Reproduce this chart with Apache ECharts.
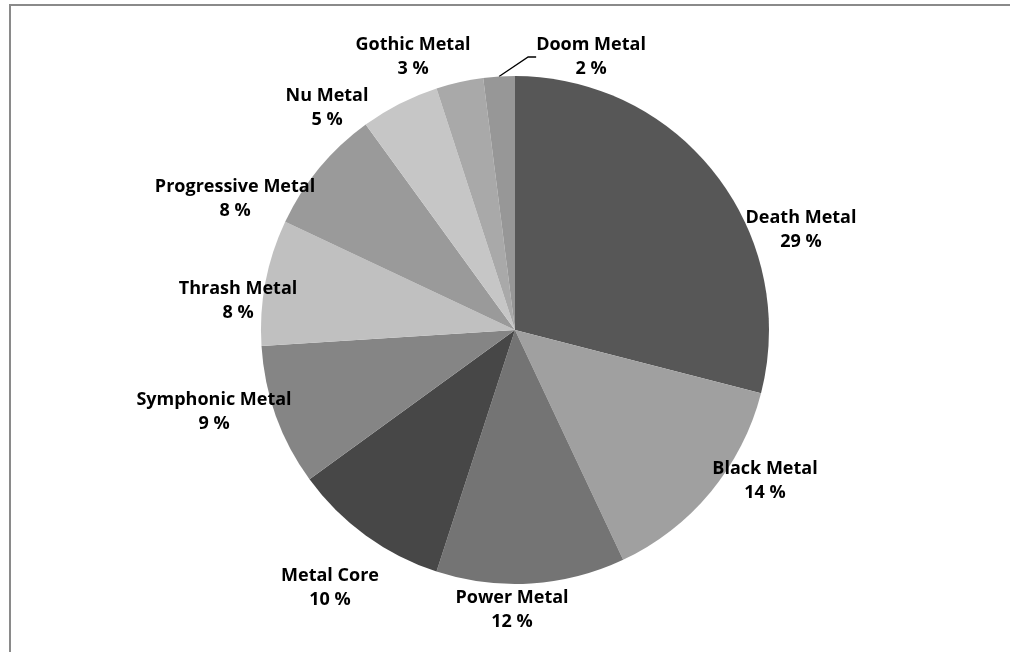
<!DOCTYPE html>
<html>
<head>
<meta charset="utf-8">
<script src="https://cdn.jsdelivr.net/npm/echarts@6/dist/echarts.min.js"></script>
<style>
  html, body { margin: 0; padding: 0; background: #ffffff; }
  #chart { width: 1010px; height: 652px; }
</style>
</head>
<body>
<div id="chart"></div>
<script>
// ---- data ----
const categories = ['Death Metal', 'Black Metal', 'Power Metal', 'Metal Core', 'Symphonic Metal',
                    'Thrash Metal', 'Progressive Metal', 'Nu Metal', 'Gothic Metal', 'Doom Metal'];
const shares = [29, 14, 12, 10, 9, 8, 8, 5, 3, 2];

// ---- styling (not data) ----
const sliceColors = ['#575757', '#a0a0a0', '#747474', '#474747', '#858585',
                     '#c0c0c0', '#9a9a9a', '#c6c6c6', '#a9a9a9', '#979797'];
// label block centres (layout only)
const labelCenters = [[801, 230], [765, 481], [512, 610], [330, 588], [214, 412],
                      [238, 301], [235, 199], [327, 108], [413, 57], [591, 57]];
const showLeader = [false, false, false, false, false, false, false, false, false, true];

const chart = echarts.init(document.getElementById('chart'), null, { renderer: 'canvas' });

const option = {
  backgroundColor: '#ffffff',
  animation: false,
  graphic: [
    { type: 'line', shape: { x1: 9, y1: 5, x2: 1010, y2: 5 }, style: { stroke: '#8a8a8a', lineWidth: 2 }, silent: true },
    { type: 'line', shape: { x1: 10, y1: 5, x2: 10, y2: 652 }, style: { stroke: '#8a8a8a', lineWidth: 2 }, silent: true }
  ],
  series: [{
    type: 'pie',
    center: [515, 330],
    radius: 254,
    startAngle: 90,
    clockwise: true,
    avoidLabelOverlap: false,
    data: categories.map((c, i) => ({
      name: c,
      value: shares[i],
      itemStyle: { color: sliceColors[i] },
      labelLine: { show: showLeader[i] }
    })),
    itemStyle: { borderWidth: 0 },
    label: {
      show: true,
      position: 'outside',
      formatter: p => p.name + '\n' + p.value + ' %',
      fontFamily: '"Open Sans", Lato, sans-serif',
      fontWeight: 'bold',
      fontSize: 18,
      lineHeight: 24,
      color: '#000000',
      align: 'center'
    },
    labelLine: {
      show: false,
      length: 10,
      length2: 8,
      smooth: false,
      lineStyle: { color: '#000000', width: 1.3 }
    },
    labelLayout: params => {
      const c = labelCenters[params.dataIndex];
      return { x: c[0], y: c[1], align: 'center', verticalAlign: 'middle' };
    },
    emphasis: { disabled: true }
  }]
};
chart.setOption(option);
</script>
</body>
</html>
